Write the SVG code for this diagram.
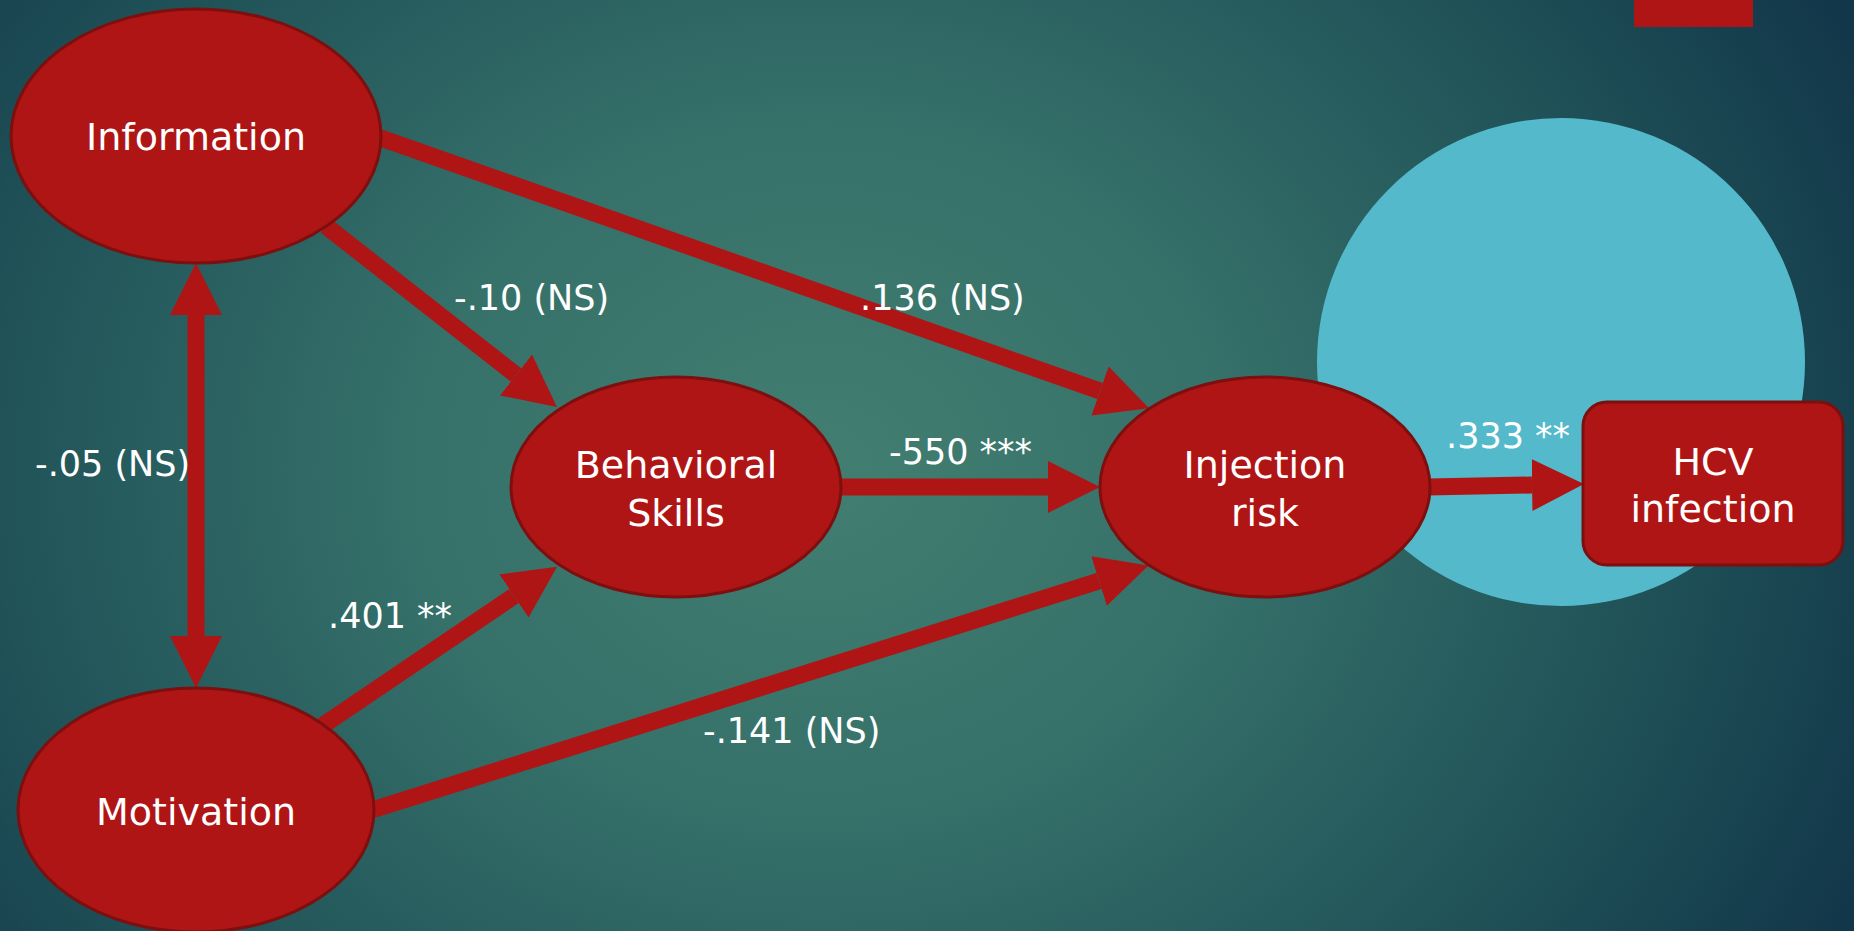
<svg xmlns="http://www.w3.org/2000/svg" width="1854" height="931" viewBox="0 0 1854 931">
  <defs>
    <radialGradient id="bg" gradientUnits="userSpaceOnUse" cx="820" cy="470" r="1150" gradientTransform="translate(820 470) scale(1 0.85) translate(-820 -470)">
      <stop offset="0" stop-color="#427E70"/>
      <stop offset="0.35" stop-color="#36716A"/>
      <stop offset="0.7" stop-color="#215459"/>
      <stop offset="1" stop-color="#12374A"/>
    </radialGradient>
    <marker id="ah" markerUnits="userSpaceOnUse" markerWidth="54" markerHeight="54" refX="0" refY="26" orient="auto-start-reverse">
      <path d="M0,0 L52,26 L0,52 z" fill="#B01515"/>
    </marker>
    <style>
      .node { fill: #B01515; stroke: #7D0F0F; stroke-width: 3; }
      .lbl { font-family: "DejaVu Sans", "Liberation Sans", sans-serif; font-size: 38px; fill: #FFFFFF; text-anchor: middle; }
      .elbl { font-family: "DejaVu Sans", "Liberation Sans", sans-serif; font-size: 35px; fill: #FFFFFF; }
      .edge { stroke: #B01515; stroke-width: 17; fill: none; marker-end: url(#ah); }
    </style>
  </defs>

  <rect x="0" y="0" width="1854" height="931" fill="url(#bg)"/>

  <g id="decor">
    <rect x="1634" y="0" width="119" height="27" fill="#B01515"/>
    <circle cx="1561" cy="362" r="244" fill="#54BACB"/>
  </g>

  <g id="connectors">
    <line class="edge" x1="196" y1="315" x2="196" y2="636" marker-start="url(#ah)"/>
    <line class="edge" x1="326" y1="226" x2="516" y2="375"/>
    <line class="edge" x1="378" y1="137" x2="1100" y2="391"/>
    <line class="edge" x1="840" y1="487" x2="1048" y2="487"/>
    <line class="edge" x1="322" y1="726" x2="514" y2="596"/>
    <line class="edge" x1="372" y1="810" x2="1099" y2="581"/>
    <line class="edge" x1="1428" y1="487" x2="1532" y2="485"/>
  </g>

  <g id="edge-labels">
    <text class="elbl" x="454" y="310">-.10 (NS)</text>
    <text class="elbl" x="860" y="310">.136 (NS)</text>
    <text class="elbl" x="35" y="476">-.05 (NS)</text>
    <text class="elbl" x="889" y="464">-550 ***</text>
    <text class="elbl" x="328" y="628">.401 **</text>
    <text class="elbl" x="703" y="743">-.141 (NS)</text>
    <text class="elbl" x="1446" y="448">.333 **</text>
  </g>

  <g id="node-information">
    <ellipse class="node" cx="196" cy="136" rx="185" ry="127"/>
    <text class="lbl" x="196" y="150">Information</text>
  </g>

  <g id="node-motivation">
    <ellipse class="node" cx="196" cy="810" rx="178" ry="122"/>
    <text class="lbl" x="196" y="825">Motivation</text>
  </g>

  <g id="node-behavioral-skills">
    <ellipse class="node" cx="676" cy="487" rx="165" ry="110"/>
    <text class="lbl" x="676" y="478">Behavioral</text>
    <text class="lbl" x="676" y="526">Skills</text>
  </g>

  <g id="node-injection-risk">
    <ellipse class="node" cx="1265" cy="487" rx="165" ry="110"/>
    <text class="lbl" x="1265" y="478">Injection</text>
    <text class="lbl" x="1265" y="526">risk</text>
  </g>

  <g id="node-hcv-infection">
    <rect class="node" x="1583" y="402" width="260" height="163" rx="24" ry="24"/>
    <text class="lbl" x="1713" y="475">HCV</text>
    <text class="lbl" x="1713" y="522">infection</text>
  </g>
</svg>
